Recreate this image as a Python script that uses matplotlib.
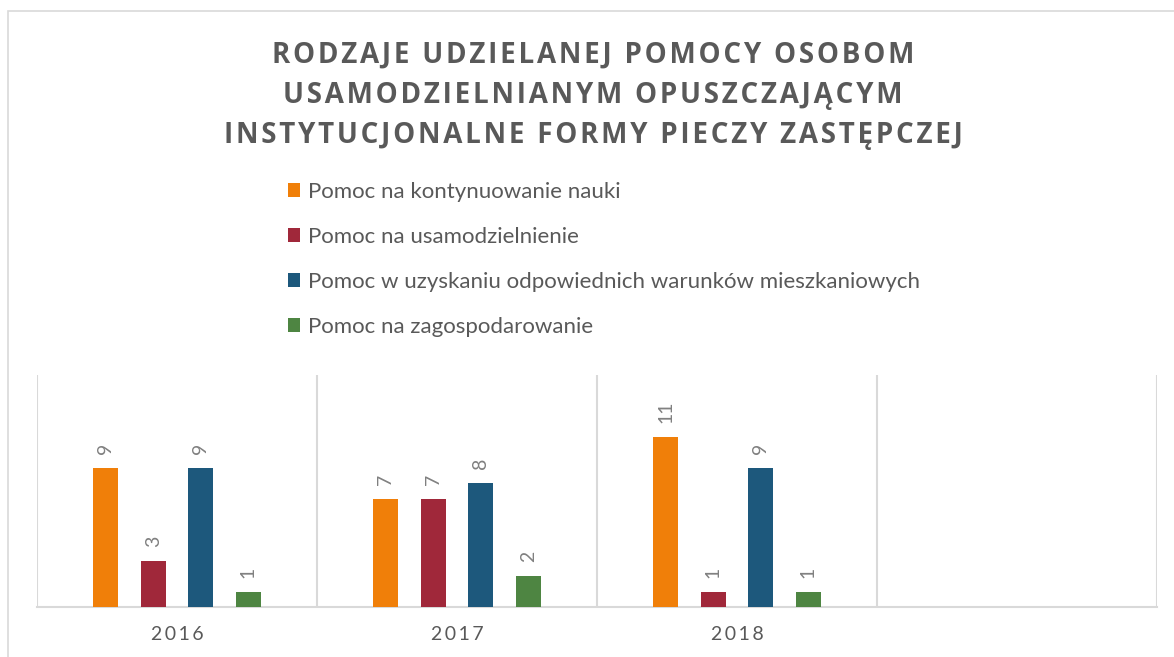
import matplotlib
matplotlib.use("Agg")
import matplotlib.pyplot as plt
from matplotlib.patches import Patch, Rectangle
import numpy as np

# data
years = ["2016", "2017", "2018", ""]
series_names = [
    "Pomoc na kontynuowanie nauki",
    "Pomoc na usamodzielnienie",
    "Pomoc w uzyskaniu odpowiednich warunków mieszkaniowych",
    "Pomoc na zagospodarowanie",
]
kontynuowanie_nauki = [9, 7, 11]
usamodzielnienie = [3, 7, 1]
warunki_mieszkaniowe = [9, 8, 9]
zagospodarowanie = [1, 2, 1]
colors = ["#F07F09", "#A0283A", "#1D587C", "#4E8542"]
title_lines = [
    "RODZAJE UDZIELANEJ POMOCY OSOBOM",
    "USAMODZIELNIANYM OPUSZCZAJĄCYM",
    "INSTYTUCJONALNE FORMY PIECZY ZASTĘPCZEJ",
]

W, H = 1174, 657
fig = plt.figure(figsize=(W / 100, H / 100), dpi=100)
fig.patch.set_facecolor("white")

HAIR = "\u200a"


def spaced(s, n=1):
    return (HAIR * n).join(s)


# outer chart frame
fig.patches.append(Rectangle((8 / W, -0.1), 1.2, 1 - 11 / H + 0.1,
                             transform=fig.transFigure, fill=False,
                             edgecolor="#D9D9D9", lw=1.2))

# title
for i, line in enumerate(title_lines):
    fig.text(593 / W, 1 - (55 + 40 * i) / H, spaced(line, 1),
             ha="center", va="center", fontsize=20, fontweight="bold",
             color="#595959", family=["Open Sans", "DejaVu Sans"])

ax = fig.add_axes([37 / W, 50 / H, 1120 / W, 232 / H])
all_series = [kontynuowanie_nauki, usamodzielnienie, warunki_mieszkaniowe, zagospodarowanie]
x = np.arange(len(years))
bw = 0.089
step = 0.17
for i, (vals, c) in enumerate(zip(all_series, colors)):
    xs = x[:len(vals)] + (i - 1.5) * step
    bars = ax.bar(xs, vals, width=bw, color=c, zorder=3)
    for b, v in zip(bars, vals):
        ax.annotate(str(v), (b.get_x() + b.get_width() / 2, v),
                    xytext=(0, 10), textcoords="offset points",
                    rotation=90, ha="center", va="bottom",
                    fontsize=14, color="#808080", family="Lato")

ax.set_xlim(-0.5, len(years) - 0.5)
ax.set_ylim(0, 15)
ax.set_yticks([])
ax.set_xticks(x)
ax.set_xticklabels([spaced(y, 2) for y in years], fontsize=14, color="#595959",
                   family=["Lato", "DejaVu Sans"])
ax.tick_params(axis="x", length=0, pad=14)
for b in np.arange(-0.5, len(years), 1.0):
    ax.axvline(b, color="#D9D9D9", lw=1.5, zorder=1)
for s in ["top", "left", "right"]:
    ax.spines[s].set_visible(False)
ax.spines["bottom"].set_color("#D9D9D9")
ax.spines["bottom"].set_linewidth(1.5)

handles = [Patch(facecolor=c, edgecolor="none") for c in colors]
leg = fig.legend(handles, series_names, loc="upper left",
                 bbox_to_anchor=(288 / W, 1 - 182 / H), frameon=False,
                 borderpad=0, borderaxespad=0, handlelength=0.56, handleheight=0.56,
                 handletextpad=0.33, labelspacing=1.12,
                 prop={"family": "Lato", "size": 16})
for t in leg.get_texts():
    t.set_color("#595959")

fig.savefig("out.png", dpi=100)
